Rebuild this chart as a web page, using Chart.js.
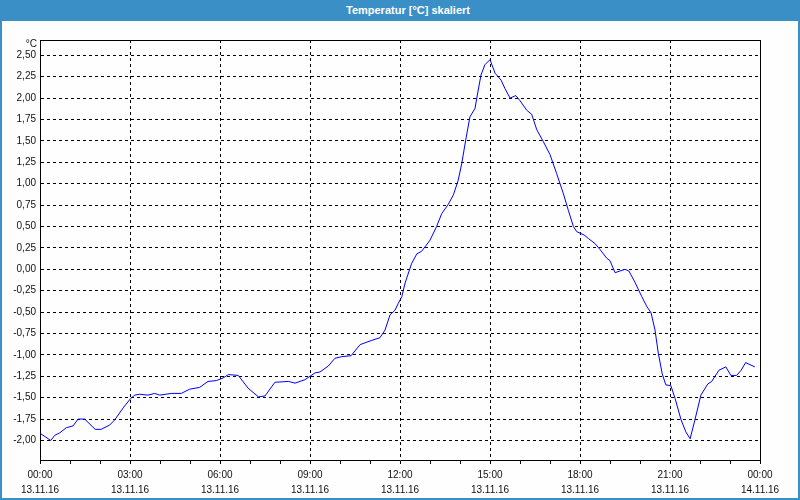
<!DOCTYPE html>
<html>
<head>
<meta charset="utf-8">
<script src="https://cdn.jsdelivr.net/npm/chart.js@4.4.1/dist/chart.umd.min.js"></script>
<style>
  html, body { margin: 0; padding: 0; background: #fdfefd; }
  #wrap { position: relative; width: 800px; height: 500px; background: #fdfefd; overflow: hidden; }
  #c { position: absolute; left: 0; top: 0; }
  #title { position: absolute; left: 0; top: 0; width: 800px; height: 21px; box-sizing: border-box;
           padding-left: 16px; background: #3b8fc7; color: #ffffff; font: bold 11px "Liberation Sans", Arial, sans-serif;
           line-height: 21px; text-align: center; }
  #frame { position: absolute; left: 0; top: 0; width: 800px; height: 500px; box-sizing: border-box;
           border: 2px solid #3b8fc7; border-top: none; pointer-events: none; }
</style>
</head>
<body>
<div id="wrap">
  <canvas id="c" width="800" height="500"></canvas>
  <div id="title">Temperatur [°C] skaliert</div>
  <div id="frame"></div>
</div>
<script>
// Time of day in hours (0 = 13.11.16 00:00)
const hours = [
  0.02, 0.36, 0.49, 0.66, 0.88, 1.10, 1.27, 1.49, 1.84, 2.04, 2.32, 2.49, 2.77, 3.02, 3.16, 3.32,
  3.60, 3.82, 3.99, 4.38, 4.71, 4.99, 5.32, 5.60, 5.88, 6.10, 6.28, 6.61, 6.94, 7.28, 7.50, 7.83,
  8.28, 8.50, 8.83, 9.17, 9.33, 9.61, 9.83, 10.06, 10.37, 10.67, 11.06, 11.33, 11.50, 11.67, 11.83,
  11.94, 12.06, 12.17, 12.39, 12.56, 12.72, 13.00, 13.22, 13.39, 13.61, 13.78, 13.94, 14.06, 14.19,
  14.33, 14.50, 14.59, 14.70, 14.83, 15.00, 15.17, 15.37, 15.50, 15.67, 15.86, 16.00, 16.22, 16.39,
  16.56, 16.78, 17.00, 17.22, 17.44, 17.61, 17.78, 17.89, 18.14, 18.28, 18.50, 18.67, 18.89, 19.00,
  19.17, 19.33, 19.50, 19.63, 19.83, 20.06, 20.22, 20.37, 20.50, 20.61, 20.74, 20.86, 21.03, 21.17,
  21.37, 21.53, 21.67, 21.83, 22.03, 22.26, 22.39, 22.63, 22.86, 23.03, 23.22, 23.37, 23.52, 23.70, 23.83
];
// Temperature in °C
const temps = [
  -1.92, -2.00, -1.94, -1.91, -1.85, -1.83, -1.75, -1.75, -1.87, -1.87, -1.82, -1.76, -1.62, -1.51, -1.47, -1.46,
  -1.47, -1.45, -1.47, -1.45, -1.45, -1.40, -1.38, -1.31, -1.30, -1.27, -1.23, -1.24, -1.39, -1.49, -1.48, -1.32,
  -1.31, -1.33, -1.29, -1.21, -1.20, -1.13, -1.04, -1.02, -1.01, -0.88, -0.83, -0.80, -0.71, -0.53, -0.48,
  -0.40, -0.32, -0.16, 0.07, 0.18, 0.21, 0.34, 0.50, 0.65, 0.76, 0.87, 1.04, 1.24, 1.51,
  1.78, 1.88, 2.06, 2.27, 2.39, 2.45, 2.29, 2.21, 2.11, 2.00, 2.03, 1.97, 1.86, 1.81,
  1.63, 1.49, 1.34, 1.12, 0.89, 0.69, 0.50, 0.44, 0.40, 0.36, 0.30, 0.23, 0.13, 0.10,
  -0.04, -0.02, 0.00, -0.02, -0.15, -0.32, -0.43, -0.51, -0.71, -0.98, -1.22, -1.35, -1.36, -1.51,
  -1.76, -1.90, -1.98, -1.76, -1.47, -1.34, -1.31, -1.18, -1.14, -1.24, -1.24, -1.18, -1.09, -1.12, -1.14
];
const yTickValues = [-2.00, -1.75, -1.50, -1.25, -1.00, -0.75, -0.50, -0.25, 0.00, 0.25, 0.50, 0.75, 1.00, 1.25, 1.50, 1.75, 2.00, 2.25, 2.50];
const xTickHours = [0,1,2,3,4,5,6,7,8,9,10,11,12,13,14,15,16,17,18,19,20,21,22,23,24];
const xLabelHours = [0, 3, 6, 9, 12, 15, 18, 21, 24];
const xTimeLabels = ['00:00', '03:00', '06:00', '09:00', '12:00', '15:00', '18:00', '21:00', '00:00'];
const xDateLabels = ['13.11.16', '13.11.16', '13.11.16', '13.11.16', '13.11.16', '13.11.16', '13.11.16', '13.11.16', '14.11.16'];
const yUnit = '°C';

const FONT = '"Liberation Sans", Arial, sans-serif';
Chart.defaults.font.family = FONT;
Chart.defaults.font.size = 10;
Chart.defaults.color = '#111111';

const bgPlugin = {
  id: 'bg',
  beforeDraw(chart) {
    const c = chart.ctx;
    c.save();
    c.fillStyle = '#fdfefd';
    c.fillRect(0, 0, chart.width, chart.height);
    c.restore();
  },
  afterDraw(chart) {
    const c = chart.ctx, a = chart.chartArea;
    c.save();
    c.strokeStyle = '#000000';
    c.lineWidth = 1;
    c.setLineDash([]);
    c.beginPath();
    c.moveTo(a.left, a.top + 0.5);
    c.lineTo(a.right + 0.5, a.top + 0.5);
    c.moveTo(a.right + 0.5, a.top);
    c.lineTo(a.right + 0.5, a.bottom);
    c.stroke();
    c.fillStyle = '#111111';
    c.font = '10px ' + FONT;
    c.textAlign = 'right';
    c.textBaseline = 'middle';
    c.fillText(yUnit, a.left - 3, a.top + 4);
    c.restore();
  }
};

new Chart(document.getElementById('c'), {
  type: 'line',
  data: {
    datasets: [{
      data: hours.map((h, i) => ({ x: h, y: temps[i] })),
      borderColor: '#0000ff',
      borderWidth: 1,
      pointRadius: 0,
      tension: 0,
      fill: false
    }]
  },
  options: {
    responsive: false,
    animation: false,
    events: [],
    layout: { padding: { top: 40, right: 40, left: 0, bottom: 0 } },
    plugins: { legend: { display: false }, tooltip: { enabled: false }, title: { display: false } },
    scales: {
      x: {
        type: 'linear',
        min: 0,
        max: 24,
        afterBuildTicks(scale) { scale.ticks = xTickHours.map(v => ({ value: v })); },
        afterFit(scale) { scale.height = 40; },
        grid: {
          color: (ctx) => (ctx.tick && ctx.tick.value % 3 === 0) ? '#000000' : 'rgba(0,0,0,0)',
          tickColor: '#000000',
          tickLength: 4,
          tickBorderDash: [],
          lineWidth: 1
        },
        border: { display: true, color: '#000000', width: 1, dash: [3, 3] },
        ticks: {
          autoSkip: false,
          maxRotation: 0,
          padding: 4,
          color: '#111111',
          font: { size: 10, lineHeight: 1.5 },
          callback: (value) => {
            const i = xLabelHours.indexOf(value);
            return i >= 0 ? [xTimeLabels[i], xDateLabels[i]] : '';
          }
        }
      },
      y: {
        type: 'linear',
        min: -2.228,
        max: 2.679,
        afterBuildTicks(scale) { scale.ticks = yTickValues.map(v => ({ value: v })); },
        afterFit(scale) { scale.width = 40; },
        grid: { color: '#000000', drawTicks: false, tickLength: 0, lineWidth: 1 },
        border: { display: true, color: '#000000', width: 1, dash: [3, 3] },
        ticks: {
          padding: 4,
          color: '#111111',
          font: { size: 10 },
          callback: (value) => Number(value).toFixed(2).replace('.', ',').replace('-0,00', '0,00')
        }
      }
    }
  },
  plugins: [bgPlugin]
});
</script>
</body>
</html>
